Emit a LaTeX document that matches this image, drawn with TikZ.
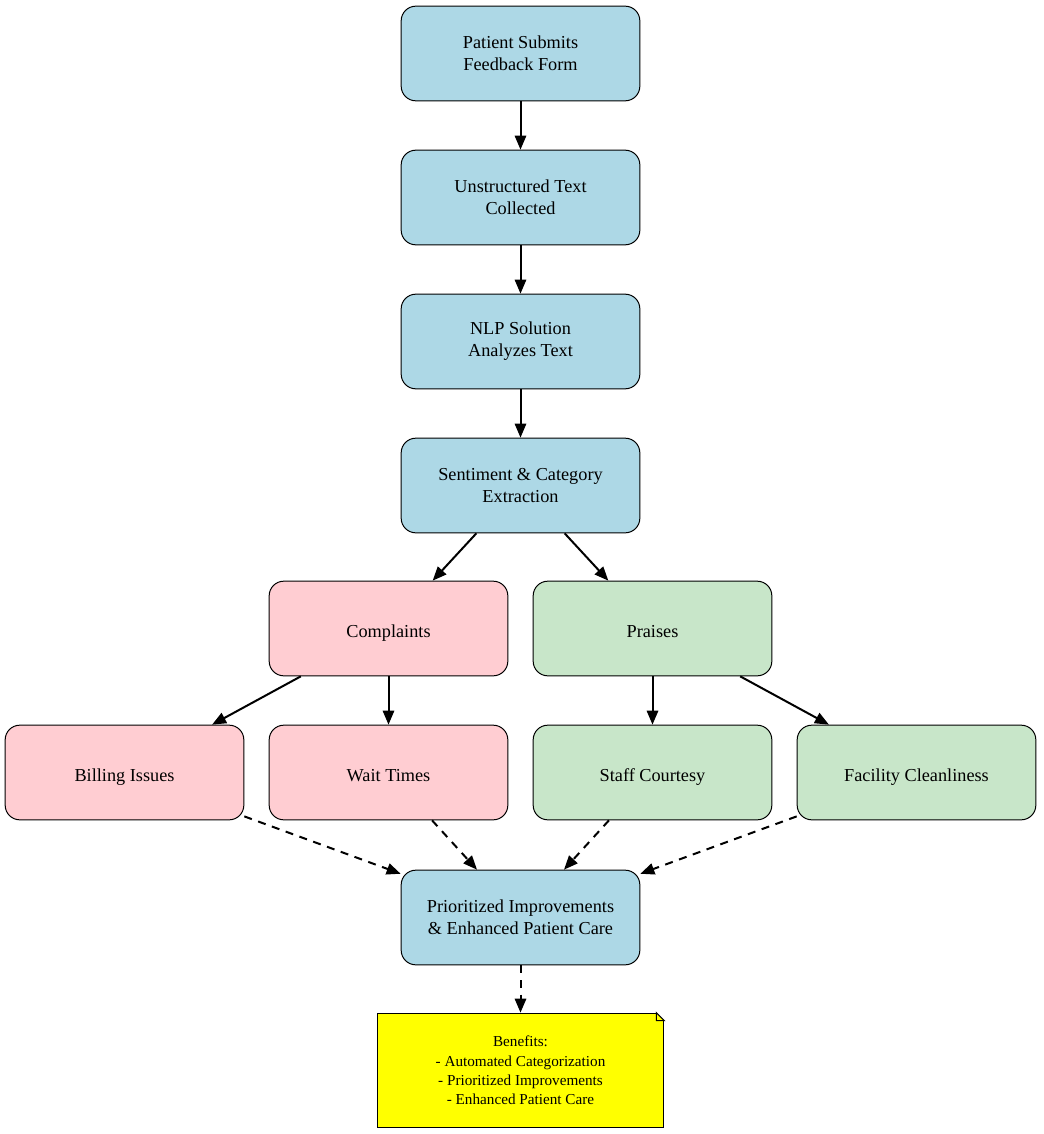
\documentclass[tikz,border=0pt]{standalone}
\usepackage{fontspec}
\setmainfont{Liberation Serif}
\usetikzlibrary{positioning, arrows.meta}
\definecolor{stepblue}{HTML}{ADD8E6}
\definecolor{badpink}{HTML}{FFCDD2}
\definecolor{goodgreen}{HTML}{C8E6C9}
\definecolor{memoyellow}{RGB}{255,255,0}

\begin{document}
\begin{tikzpicture}[x=0.75pt, y=-0.75pt,
      -{Triangle[length=10.5pt, width=8.5pt]}, line width=1.5pt,
      box/.style={rectangle, rounded corners=11pt, draw, line width=0.75pt,
        minimum width=179pt, minimum height=71pt, align=center,
        font=\fontsize{13.7}{16.5}\selectfont},
      single/.style={text height=14pt, text depth=1pt},
      flow/.style={box, fill=stepblue},
      bad/.style={box, fill=badpink, single},
      good/.style={box, fill=goodgreen, single},
      memo/.style={rectangle, draw, line width=0.75pt, fill=memoyellow,
        minimum width=215pt, minimum height=86pt, align=center,
        font=\fontsize{11.4}{14.5}\selectfont},
      link/.style={dashed, dash pattern=on 6pt off 5pt}]
      \useasboundingbox (0,0) rectangle (1043,1134);
      % main chain
      \node[flow] (submit) at(520.5,53.5) {Patient Submits\\Feedback Form};
      \node[flow] (text) at(520.5,197.5) {Unstructured Text\\Collected};
      \path (submit) edge (text);
      \node[flow] (nlp) at(520.5,341.5) {NLP Solution\\Analyzes Text};
      \path (text) edge (nlp);
      \node[flow] (extract) at(520.5,485.5) {Sentiment \& Category\\Extraction};
      \path (nlp) edge (extract);
      % complaints
      \node[bad] (compl) at(388.5,628.5) {Complaints};
      \path (extract) edge (compl);
      \node[bad] (billing) at(124.5,772.5) {Billing Issues};
      \node[bad] (wait) at(388.5,772.5) {Wait Times};
      \path (compl) edge (billing);
      \path (compl) edge (wait);
      % praises
      \node[good] (praise) at(652.5,628.5) {Praises};
      \path (extract) edge (praise);
      \node[good] (staff) at(652.5,772.5) {Staff Courtesy};
      \node[good] (clean) at(916.5,772.5) {Facility Cleanliness};
      \path (praise) edge (staff);
      \path (praise) edge (clean);
      % outcome
      \node[flow] (improve) at(520.5,917.5) {Prioritized Improvements\\\& Enhanced Patient Care};
      \path[link] (billing) edge (improve);
      \path[link] (wait) edge (improve);
      \path[link] (staff) edge (improve);
      \path[link] (clean) edge (improve);
      % benefits note
      \node[memo] (benefits) at(520.5,1070.5) {Benefits:\\- Automated Categorization\\- Prioritized Improvements\\- Enhanced Patient Care};
      \fill[white] ([xshift=-6pt]benefits.north east) -- (benefits.north east)
        -- ([yshift=-6pt]benefits.north east) -- cycle;
      \draw[-, line width=0.75pt] ([xshift=-6pt]benefits.north east)
        -- ([yshift=-6pt]benefits.north east)
        -- ([xshift=-6pt, yshift=-6pt]benefits.north east) -- cycle;
      \path[link] (improve) edge (benefits);
  \end{tikzpicture}
\end{document}
